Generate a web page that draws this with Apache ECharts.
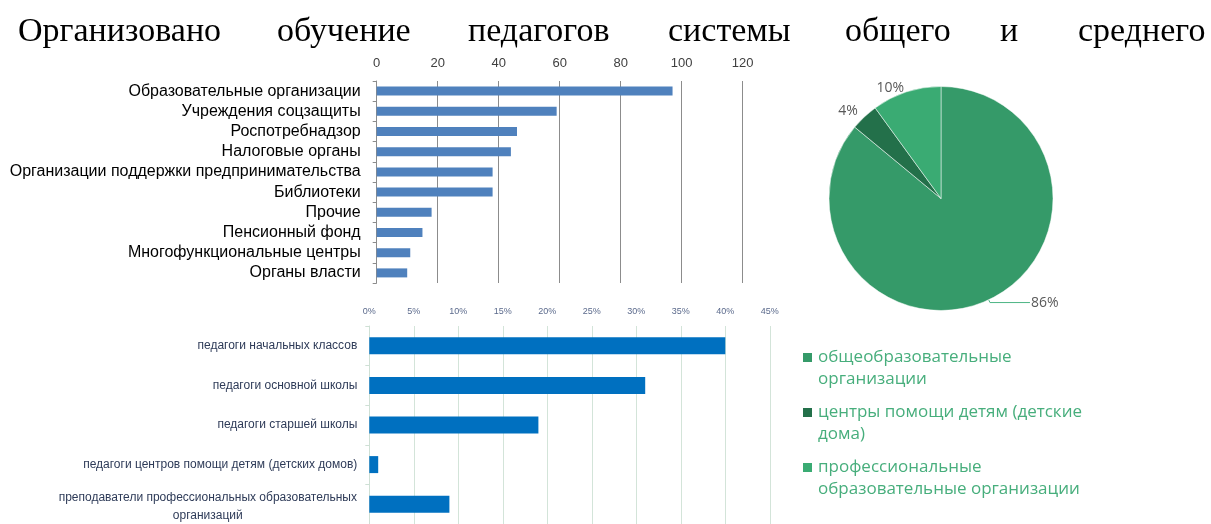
<!DOCTYPE html>
<html>
<head>
<meta charset="utf-8">
<script src="https://cdn.jsdelivr.net/npm/echarts@6/dist/echarts.min.js"></script>
<style>
html,body{margin:0;padding:0;background:#fff;}
#main{width:1211px;height:524px;}
</style>
</head>
<body>
<div id="main"></div>
<script>
// ---- data ----
const titleWords = ['Организовано', 'обучение', 'педагогов', 'системы', 'общего', 'и', 'среднего'];

const orgCategories = [
  'Образовательные организации',
  'Учреждения соцзащиты',
  'Роспотребнадзор',
  'Налоговые органы',
  'Организации поддержки предпринимательства',
  'Библиотеки',
  'Прочие',
  'Пенсионный фонд',
  'Многофункциональные центры',
  'Органы власти'
];
const orgValues = [97, 59, 46, 44, 38, 38, 18, 15, 11, 10];
const orgTicks = [0, 20, 40, 60, 80, 100, 120];

const teacherCategories = [
  'педагоги начальных классов',
  'педагоги основной школы',
  'педагоги старшей школы',
  'педагоги центров помощи детям (детских домов)',
  'преподаватели профессиональных образовательных\nорганизаций'
];
const teacherShares = [0.40, 0.31, 0.19, 0.01, 0.09];
const teacherTicks = [0, 0.05, 0.10, 0.15, 0.20, 0.25, 0.30, 0.35, 0.40, 0.45];

const pieNames = [
  'общеобразовательные\nорганизации',
  'центры помощи детям (детские\nдома)',
  'профессиональные\nобразовательные организации'
];
const pieValues = [86, 4, 10];

// ---- layout / style ----
const wordX = [18, 277, 468, 668, 845, 1000, 1078];
const pieColors = ['#359A69', '#23704A', '#3AAB73'];

const chart = echarts.init(document.getElementById('main'), null, {renderer: 'canvas'});

function measure(text, font) {
  const c = document.createElement('canvas').getContext('2d');
  c.font = font;
  return c.measureText(text).width;
}
const t2Font = '12px "Liberation Sans"';
const wrapW = Math.ceil(measure(teacherCategories[4].split('\n')[0], t2Font));

const legendRich = {
  g: {width: 6},
  p: {width: 15},
  t: {fontSize: 17, fontFamily: '"Open Sans"', color: '#47AE7C', lineHeight: 22}
};
pieColors.forEach((c, i) => {
  legendRich['s' + i] = {width: 9, height: 9, backgroundColor: c};
});

const option = {
  backgroundColor: '#fff',
  animation: false,
  graphic: titleWords.map((w, i) => ({
    type: 'text',
    x: wordX[i],
    y: 32,
    style: {
      text: w,
      font: '34px "Liberation Serif"',
      fill: '#000',
      align: 'left',
      verticalAlign: 'middle'
    }
  })),
  grid: [
    {left: 376.7, right: 468.3, top: 81, height: 202},
    {left: 369.3, right: 441.2, top: 326, height: 200}
  ],
  xAxis: [
    {
      gridIndex: 0, type: 'value', position: 'top',
      min: orgTicks[0], max: orgTicks[orgTicks.length - 1], interval: orgTicks[1] - orgTicks[0],
      axisLine: {show: false}, axisTick: {show: false},
      axisLabel: {fontSize: 13, color: '#404040', fontFamily: '"Liberation Sans"', margin: 11},
      splitLine: {show: true, lineStyle: {color: '#8C8C8C', width: 1}}
    },
    {
      gridIndex: 1, type: 'value', position: 'top',
      min: teacherTicks[0], max: teacherTicks[teacherTicks.length - 1], interval: 0.05,
      axisLine: {show: false}, axisTick: {show: false},
      axisLabel: {
        fontSize: 9, color: '#5B6A8C', fontFamily: '"Liberation Sans"', margin: 10,
        formatter: v => Math.round(v * 100) + '%'
      },
      splitLine: {show: true, lineStyle: {color: '#D3E4D9', width: 1}}
    }
  ],
  yAxis: [
    {
      gridIndex: 0, type: 'category', inverse: true, data: orgCategories,
      axisLine: {show: true, lineStyle: {color: '#8C8C8C'}},
      axisTick: {show: true, length: 4, lineStyle: {color: '#8C8C8C'}},
      axisLabel: {interval: 0, fontSize: 16, color: '#000', fontFamily: '"Liberation Sans"', margin: 16}
    },
    {
      gridIndex: 1, type: 'category', inverse: true, data: teacherCategories,
      axisLine: {show: true, lineStyle: {color: '#CFE0D5'}},
      axisTick: {show: true, length: 4, lineStyle: {color: '#CFE0D5'}},
      axisLabel: {
        interval: 0,
        fontSize: 12, color: '#2E3B58', fontFamily: '"Liberation Sans"', margin: 12,
        formatter: function (v) {
          if (v.indexOf('\n') < 0) return v;
          const lines = v.split('\n');
          return '{e| }\n{c|' + lines[0] + '}\n{c|' + lines[1] + '}';
        },
        rich: {
          e: {fontSize: 4, lineHeight: 4, height: 4},
          c: {
            width: wrapW, align: 'center', fontSize: 12, color: '#2E3B58',
            fontFamily: '"Liberation Sans"', lineHeight: 18
          }
        }
      }
    }
  ],
  legend: {
    data: pieNames,
    orient: 'vertical',
    left: 792,
    top: 344,
    itemWidth: 0,
    itemHeight: 0,
    itemGap: 16,
    selectedMode: false,
    formatter: function (name) {
      const i = pieNames.indexOf(name);
      const lines = name.split('\n');
      return '{s' + i + '|}{g|}{t|' + lines[0] + '}\n{p|}{t|' + lines[1] + '}';
    },
    textStyle: {rich: legendRich}
  },
  series: [
    {
      type: 'bar', xAxisIndex: 0, yAxisIndex: 0,
      data: orgValues, barWidth: 9,
      itemStyle: {color: '#4F81BD'}
    },
    {
      type: 'bar', xAxisIndex: 1, yAxisIndex: 1,
      data: teacherShares, barWidth: 17,
      itemStyle: {color: '#0070C0'}
    },
    {
      type: 'pie',
      center: [941, 198.5],
      radius: 112,
      startAngle: 90,
      clockwise: true,
      color: pieColors,
      itemStyle: {borderColor: '#fff', borderWidth: 0.5},
      label: {
        show: true, formatter: '{c}%', fontSize: 14, color: '#595959', fontFamily: '"Open Sans"',
        distanceToLabelLine: 1
      },
      labelLine: {show: false, length: 4, length2: 0},
      data: pieNames.map((n, i) => {
        const d = {name: n, value: pieValues[i]};
        if (i === 0) d.labelLine = {show: true, length: 3, length2: 40, lineStyle: {color: '#4DB585'}};
        if (i === 1) d.labelLine = {show: false, length: 8, length2: 0};
        return d;
      })
    }
  ]
};
chart.setOption(option);
</script>
</body>
</html>
